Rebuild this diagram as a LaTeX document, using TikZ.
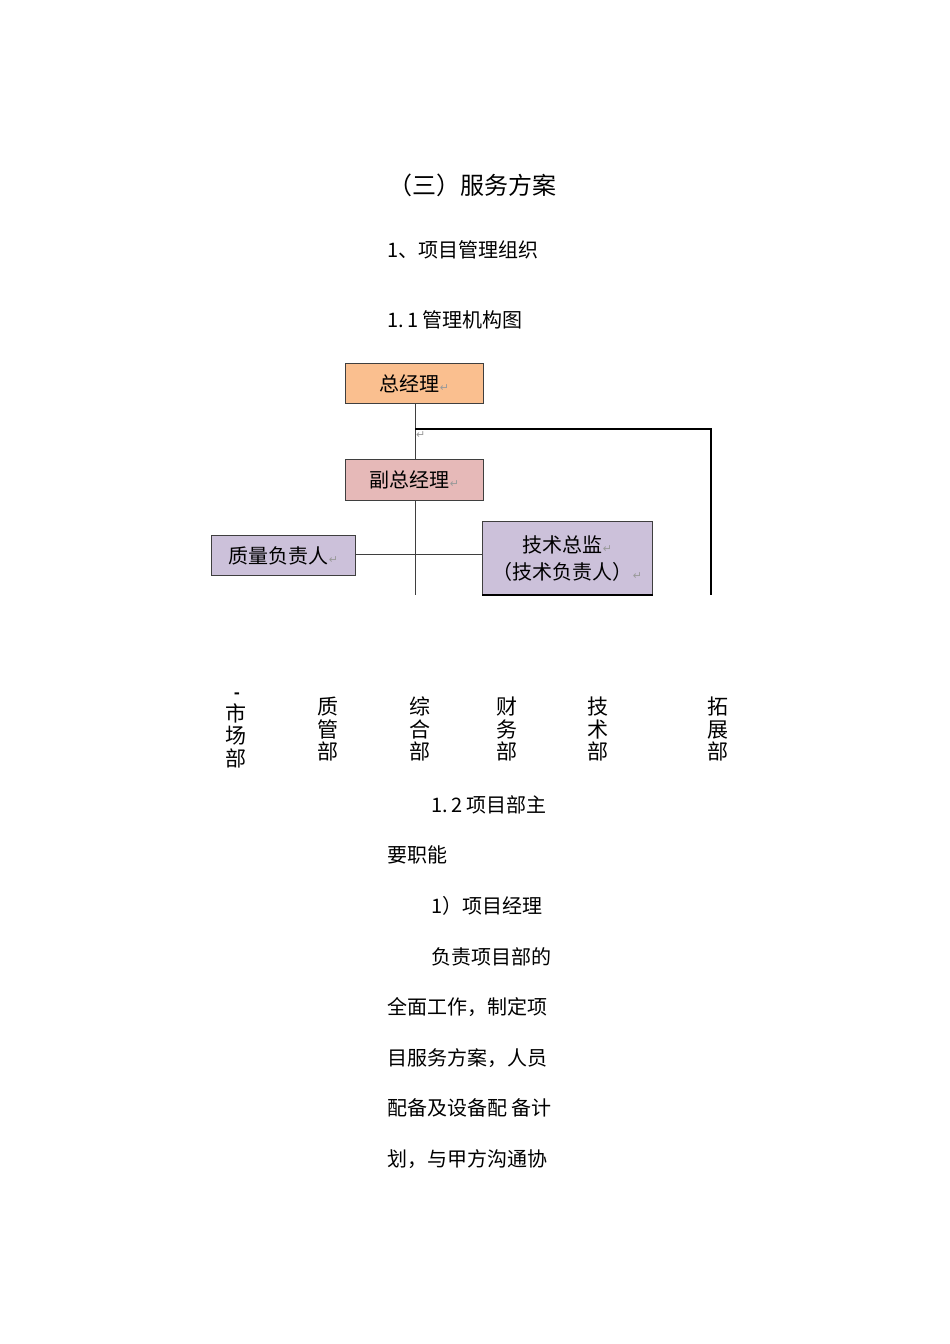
\documentclass[tikz,border=0pt]{standalone}
\usepackage{fontspec}
\setmainfont{Noto Sans CJK SC}
\newfontfamily\symf{DejaVu Sans}
\definecolor{orangefill}{HTML}{FABF8F}
\definecolor{pinkfill}{HTML}{E6B9B8}
\definecolor{lavfill}{HTML}{CCC1DA}
\definecolor{bordergray}{HTML}{3F3F3F}
\definecolor{retgray}{HTML}{9A9A9A}
\newcommand{\retmark}{{\symf\fontsize{11}{11}\selectfont\textcolor{retgray}{↵}}}
\begin{document}
\begin{tikzpicture}[x=1pt,y=-1pt,
  orgbox/.style={draw=bordergray,line width=1.2pt,inner sep=0pt,anchor=north west,font=\fontsize{20}{24}\selectfont,align=center},
  conn/.style={draw=bordergray,line width=1pt},
  thick conn/.style={draw=black,line width=1.8pt},
  bodytext/.style={anchor=west,inner sep=0pt,font=\fontsize{20}{22}\selectfont},
  dept/.style={anchor=north,inner sep=0pt,align=center,font=\fontsize{21}{22.5}\selectfont}]
\useasboundingbox (0,0) rectangle (950,1344);

% headings
\node[inner sep=0pt,font=\fontsize{24}{26}\selectfont] (title) at (472,185) {（三）服务方案};
\node[bodytext] (h1) at (387,250) {1、项目管理组织};
\node[bodytext] (h11) at (387,320) {1.\hspace{4pt}1\hspace{4pt}管理机构图};

% boxes
\node[orgbox,fill=orangefill,minimum width=138pt,minimum height=40pt] (gm) at (345,363) {总经理\retmark};
\node[orgbox,fill=pinkfill,minimum width=138pt,minimum height=41pt] (dgm) at (345,459) {副总经理\retmark};
\node[orgbox,fill=lavfill,minimum width=144pt,minimum height=40pt] (qm) at (211,535) {质量负责人\retmark};
\node[orgbox,fill=lavfill,minimum width=170pt,minimum height=73pt,font=\fontsize{20}{27}\selectfont] (td) at (482,521) {技术总监\retmark\\（技术负责人）\retmark};

% coordinates
\coordinate (jtop) at (415,429);
\coordinate (jright) at (711,429);
\coordinate (rend) at (711,595);
\coordinate (vend) at (415,595);
\coordinate (hmid) at (415,554);

% connectors
\draw[conn] (gm.south -| jtop) -- (dgm.north -| jtop);
\draw[thick conn] (jtop) -- (jright) -- (rend);
\draw[conn] (dgm.south -| jtop) -- (vend);
\draw[conn] (qm.east |- hmid) -- (td.west |- hmid);
\draw[black,line width=1.8pt] (td.south west) -- (td.south east);
\node[inner sep=0pt,anchor=north west] (ret1) at (416,431) {\retmark};

% departments
\node[inner sep=0pt,font=\bfseries\fontsize{16}{16}\selectfont] (dash) at (237,696) {-};
\node[dept] (d1) at (236,703) {市\\场\\部};
\node[dept] (d2) at (328,697) {质\\管\\部};
\node[dept] (d3) at (420,697) {综\\合\\部};
\node[dept] (d4) at (507,697) {财\\务\\部};
\node[dept] (d5) at (598,697) {技\\术\\部};
\node[dept] (d6) at (718,697) {拓\\展\\部};

% body text
\node[bodytext] (p1) at (431,805) {1.\hspace{4pt}2\hspace{4pt}项目部主};
\node[bodytext] (p2) at (387,855) {要职能};
\node[bodytext] (p3) at (431,906) {1）项目经理};
\node[bodytext] (p4) at (431,957) {负责项目部的};
\node[bodytext] (p5) at (387,1007) {全面工作，制定项};
\node[bodytext] (p6) at (387,1058) {目服务方案，人员};
\node[bodytext] (p7) at (387,1108) {配备及设备配\ 备计};
\node[bodytext] (p8) at (387,1159) {划，与甲方沟通协};
\end{tikzpicture}
\end{document}
